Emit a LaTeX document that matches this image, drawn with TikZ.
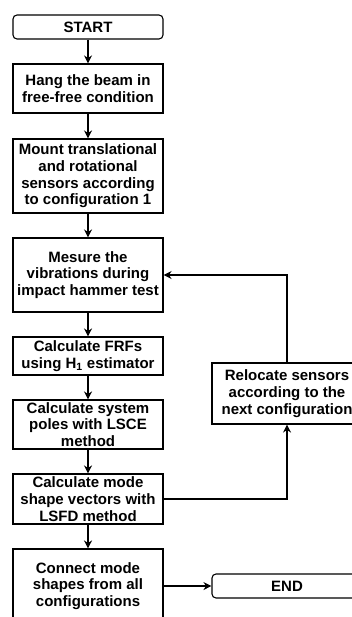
\documentclass[tikz,border=0pt]{standalone}
\usepackage{fontspec}
\setmainfont{Liberation Sans}
\usetikzlibrary{arrows.meta}
\begin{document}
\begin{tikzpicture}[x=1pt,y=-1pt,
  box/.style={draw, line width=1.1pt, minimum width=150pt, align=center,
    font=\fontsize{15}{16.7}\selectfont\bfseries, inner sep=0pt},
  term/.style={box, rounded corners=4pt},
  arr/.style={line width=1.1pt, -{Stealth[length=8pt,width=8pt]}}]
\useasboundingbox (0,0) rectangle (352,617);
\clip (0,0) rectangle (352,617);
\fill[white] (0,0) rectangle (352,617);
\node[term, minimum height=24pt] (start) at (88,27) {START};
\node[box, minimum height=49pt] (hang) at (88,88.5) {Hang the beam in\\free-free condition};
\node[box, minimum height=74pt] (mount) at (88,176) {Mount translational\\and rotational\\sensors according\\to configuration 1};
\node[box, minimum height=74pt] (mesure) at (88,275) {Mesure the\\vibrations during\\impact hammer test};
\node[box, minimum height=38pt] (frf) at (88,356) {Calculate FRFs\\using H\textsubscript{1} estimator};
\node[box, minimum height=49pt] (poles) at (88,424.5) {Calculate system\\poles with LSCE\\method};
\node[box, minimum height=50pt] (mode) at (88,499) {Calculate mode\\shape vectors with\\LSFD method};
\node[box, minimum height=74pt] (connect) at (88,586) {Connect mode\\shapes from all\\configurations};
\node[box, minimum height=61pt] (relocate) at (287,393.5) {Relocate sensors\\according to the\\next configuration};
\node[term, minimum height=24pt] (end) at (287,586) {END};
\draw[arr] (start) -- (hang);
\draw[arr] (hang) -- (mount);
\draw[arr] (mount) -- (mesure);
\draw[arr] (mesure) -- (frf);
\draw[arr] (frf) -- (poles);
\draw[arr] (poles) -- (mode);
\draw[arr] (mode) -- (connect);
\draw[arr] (mode.east) -| (relocate.south);
\draw[arr] (relocate.north) |- (mesure.east);
\draw[arr] (connect.east) -- (end.west);
\end{tikzpicture}
\end{document}
